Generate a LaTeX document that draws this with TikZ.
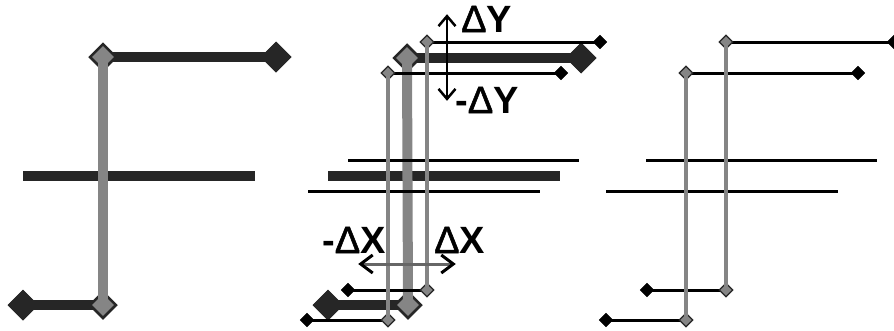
\documentclass[tikz,border=0pt]{standalone}
\usepackage{fontspec}
\setmainfont{Liberation Sans}
\newfontfamily\deltafont[FakeBold=1.5]{Liberation Sans}
\usetikzlibrary{arrows.meta, shapes.geometric}
\pgfdeclarelayer{bigbars}
\pgfdeclarelayer{thinbars}
\pgfdeclarelayer{thinparts}
\pgfsetlayers{bigbars,main,thinbars,thinparts}

\begin{document}
\begin{tikzpicture}[x=1pt, y=-1pt,
                    end_big/.style={diamond, draw=black!85, fill=black!85, line width=1pt, inner sep=0pt, minimum size=30pt},
                    joint_big/.style={diamond, draw=black!85, fill=black!48, line width=2.5pt, inner sep=0pt, minimum size=27pt},
                    end_small/.style={diamond, draw=black, fill=black, inner sep=0pt, minimum size=14pt},
                    joint_small/.style={diamond, draw=black!85, fill=black!48, line width=1.2pt, inner sep=0pt, minimum size=14pt},
                    stub/.style={inner sep=0pt, minimum size=0pt},
                    bar_big/.style={black!85, line width=10pt},
                    stem_big/.style={black!48, line width=10pt},
                    bar_small/.style={black, line width=3pt},
                    stem_small/.style={black!48, line width=3.5pt},
                    shift_y/.style={{Straight Barb[length=10pt, width=17pt]}-{Straight Barb[length=10pt, width=17pt]}, black, line width=2.5pt},
                    shift_x/.style={{Straight Barb[length=12pt, width=18pt, black]}-{Straight Barb[length=12pt, width=18pt, black]}, black!60, line width=3pt},
                    label/.style={font=\fontsize{38}{38}\bfseries, inner sep=0pt, anchor=base west}]

    \useasboundingbox (0,0) rectangle (894,330);

    % left glyph
    \node[joint_big] (a1) at (103,57) {};
    \node[end_big] (a2) at (276,57) {};
    \node[joint_big] (a3) at (103,305) {};
    \node[end_big] (a4) at (23,305) {};
    \node[stub] (a5) at (23,176) {};
    \node[stub] (a6) at (255,176) {};

    \begin{pgfonlayer}{bigbars}
        \draw[bar_big] (a1.center) -- (a2.center);
        \draw[bar_big] (a4.center) -- (a3.center);
        \draw[bar_big] (a5) -- (a6);
    \end{pgfonlayer}
    \draw[stem_big] (a1.center) -- (a3.center);

    % middle glyph, thick one
    \node[joint_big] (m1) at (407,58) {};
    \node[end_big] (m2) at (581,58) {};
    \node[joint_big] (m3) at (408,305) {};
    \node[end_big] (m4) at (328,305) {};
    \node[stub] (m5) at (328,176) {};
    \node[stub] (m6) at (560,176) {};

    \begin{pgfonlayer}{bigbars}
        \draw[bar_big] (m1.center) -- (m2.center);
        \draw[bar_big] (m4.center) -- (m3.center);
        \draw[bar_big] (m5) -- (m6);
    \end{pgfonlayer}
    \draw[stem_big] (m1.center) -- (m3.center);

    % middle glyph, thin ones
    \begin{pgfonlayer}{thinparts}
        \node[joint_small] (u1) at (427,42) {};
        \node[end_small] (u2) at (600,42) {};
        \node[joint_small] (u3) at (427,290) {};
        \node[end_small] (u4) at (348,290) {};
        \node[stub] (u5) at (348,160) {};
        \node[stub] (u6) at (579,160) {};

        \node[joint_small] (d1) at (388,73) {};
        \node[end_small] (d2) at (561,73) {};
        \node[joint_small] (d3) at (388,320) {};
        \node[end_small] (d4) at (307,320) {};
        \node[stub] (d5) at (308,191) {};
        \node[stub] (d6) at (540,191) {};

        \draw[stem_small] (u1.center) -- (u3.center);
        \draw[stem_small] (d1.center) -- (d3.center);
    \end{pgfonlayer}

    \begin{pgfonlayer}{thinbars}
        \draw[bar_small] (u1.center) -- (u2.center);
        \draw[bar_small] (u4.center) -- (u3.center);
        \draw[bar_small] (u5) -- (u6);
        \draw[bar_small] (d1.center) -- (d2.center);
        \draw[bar_small] (d4.center) -- (d3.center);
        \draw[bar_small] (d5) -- (d6);
    \end{pgfonlayer}

    % right glyph
    \begin{pgfonlayer}{thinparts}
        \node[joint_small] (r1) at (726,42) {};
        \node[end_small] (r2) at (894,42) {};
        \node[joint_small] (r3) at (726,290) {};
        \node[end_small] (r4) at (647,290) {};
        \node[stub] (r5) at (646,160) {};
        \node[stub] (r6) at (877,160) {};

        \node[joint_small] (s1) at (686,73) {};
        \node[end_small] (s2) at (858,73) {};
        \node[joint_small] (s3) at (686,320) {};
        \node[end_small] (s4) at (606,320) {};
        \node[stub] (s5) at (606,191) {};
        \node[stub] (s6) at (838,191) {};

        \draw[stem_small] (r1.center) -- (r3.center);
        \draw[stem_small] (s1.center) -- (s3.center);
    \end{pgfonlayer}

    \begin{pgfonlayer}{thinbars}
        \draw[bar_small] (r1.center) -- (r2.center);
        \draw[bar_small] (r4.center) -- (r3.center);
        \draw[bar_small] (r5) -- (r6);
        \draw[bar_small] (s1.center) -- (s2.center);
        \draw[bar_small] (s4.center) -- (s3.center);
        \draw[bar_small] (s5) -- (s6);
    \end{pgfonlayer}

    % shift arrows and labels
    \begin{pgfonlayer}{thinparts}
        \node[stub] (y1) at (447,14) {};
        \node[stub] (y2) at (447,101) {};
        \node[stub] (x1) at (358,264) {};
        \node[stub] (x2) at (456,264) {};

        \draw[shift_y] (y1) -- (y2);
        \draw[shift_x] (x1) -- (x2);

        \node[label] (ly) at (461,32) {{\deltafont\mdseries Δ}Y};
        \node[label] (lny) at (455,113) {-{\deltafont\mdseries Δ}Y};
        \node[label] (lnx) at (322,253) {-{\deltafont\mdseries Δ}X};
        \node[label] (lx) at (434,253) {{\deltafont\mdseries Δ}X};
    \end{pgfonlayer}
\end{tikzpicture}
\end{document}
